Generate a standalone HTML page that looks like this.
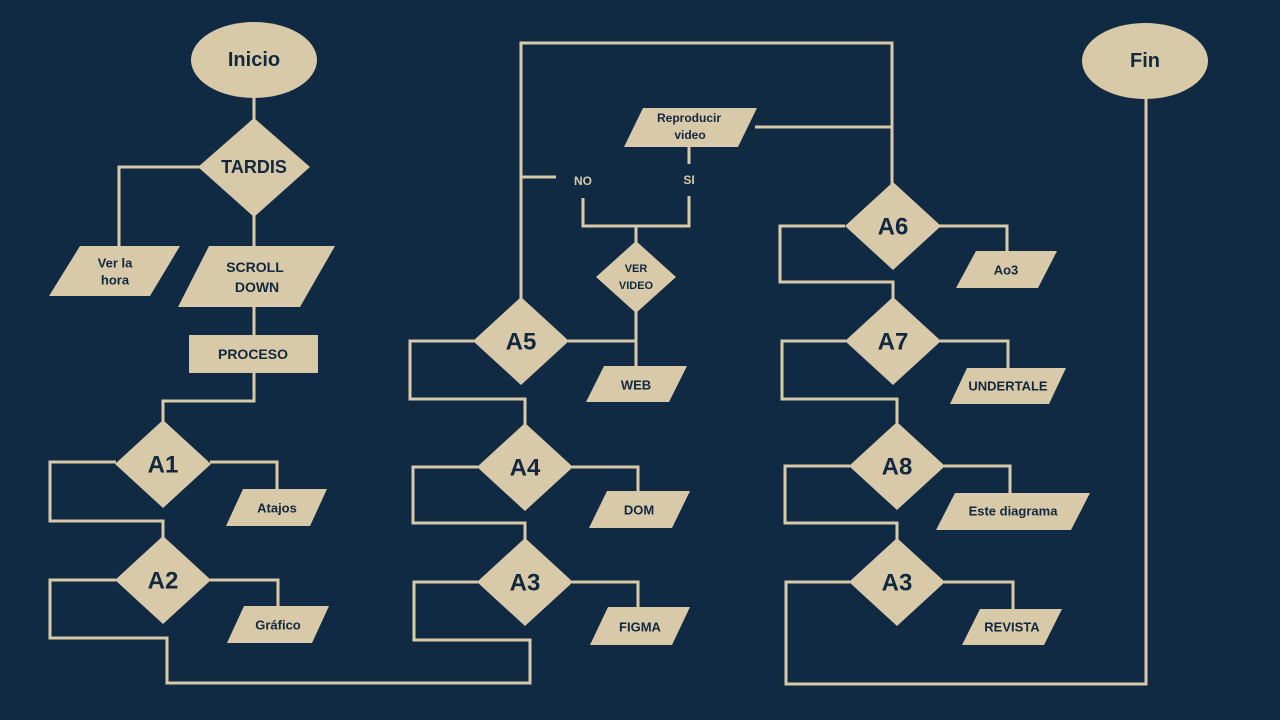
<!DOCTYPE html>
<html><head><meta charset="utf-8"><style>
html,body{margin:0;padding:0;background:#0f2a42;}
svg{display:block}
text{font-family:"Liberation Sans",sans-serif;font-weight:bold;fill:#12283e;text-anchor:middle;dominant-baseline:central}
.l{fill:none;stroke:#d8c9a9;stroke-width:3}
.s{fill:#d8c9a9}
.w{fill:#d8c9a9}
</style></head><body>
<svg width="1280" height="720" viewBox="0 0 1280 720">
<rect width="1280" height="720" fill="#0f2a42"/>
<g class="l">
<path d="M254 98V120M254 215V248M254 305V336M254 373V401H163V422"/>
<path d="M200 167H119V248"/>
<path d="M116 462H50V521H163V538M210 462H277V490"/>
<path d="M116 580H50V638H167V683H530V640H414V582H478M210 580H278V607"/>
<path d="M521 299V43H892V184M521 177H556M583 198V226H689V196M689 164V147M755 127H892"/>
<path d="M636 226V243M568 341H636V311M636 341V367"/>
<path d="M474 341H410V399H525V425M478 467H413V523H525V540M572 467H638V492M572 582H638V608"/>
<path d="M845 226H780V282H893V299M939 226H1007V252"/>
<path d="M846 341H782V399H897V424M940 341H1008V369"/>
<path d="M850 466H785V523H897V540M944 466H1010V494"/>
<path d="M850 582H786V684H1146V99M944 582H1013V610"/>
</g>
<g class="s">
<ellipse cx="254" cy="60" rx="63" ry="38"/>
<ellipse cx="1145" cy="61" rx="63" ry="38"/>
<polygon points="254,118 310,167 254,217 198,167"/>
<polygon points="80,246 180,246 150,296 49,296"/>
<polygon points="209,246 335,246 300,307 178,307"/>
<rect x="189" y="335" width="129" height="38"/>
<polygon points="163,420 211,464 163,508 115,464"/>
<polygon points="243,489 327,489 310,526 226,526"/>
<polygon points="163,536 211,580 163,624 115,580"/>
<polygon points="244,606 329,606 312,643 227,643"/>
<polygon points="643,108 757,108 738,147 624,147"/>
<polygon points="636,241 676,277 636,313 596,277"/>
<polygon points="521,297 569,341 521,385 473,341"/>
<polygon points="604,366 687,366 669,402 586,402"/>
<polygon points="525,423 573,467 525,511 477,467"/>
<polygon points="607,491 690,491 672,528 589,528"/>
<polygon points="525,538 573,582 525,626 477,582"/>
<polygon points="608,607 690,607 672,645 590,645"/>
<polygon points="893,182 941,226 893,270 845,226"/>
<polygon points="976,251 1057,251 1038,288 956,288"/>
<polygon points="893,297 941,341 893,385 845,341"/>
<polygon points="967,368 1066,368 1049,404 950,404"/>
<polygon points="897,422 945,466 897,510 849,466"/>
<polygon points="955,493 1090,493 1071,530 936,530"/>
<polygon points="897,538 945,582 897,626 849,582"/>
<polygon points="980,609 1062,609 1044,645 962,645"/>
</g>
<text x="254" y="60" font-size="20">Inicio</text>
<text x="1145" y="61" font-size="20">Fin</text>
<text x="254" y="167" font-size="18">TARDIS</text>
<text x="115" y="263" font-size="13">Ver la</text>
<text x="115" y="280" font-size="13">hora</text>
<text x="255" y="267" font-size="14">SCROLL</text>
<text x="257" y="287" font-size="14">DOWN</text>
<text x="253" y="354" font-size="14">PROCESO</text>
<text x="163" y="465" font-size="24">A1</text>
<text x="277" y="508" font-size="13">Atajos</text>
<text x="163" y="581" font-size="24">A2</text>
<text x="278" y="625" font-size="13">Gráfico</text>
<text x="689" y="118" font-size="12">Reproducir</text>
<text x="690" y="135" font-size="12">video</text>
<text x="583" y="181" font-size="12" fill="#d8c9a9" style="fill:#d8c9a9">NO</text>
<text x="689" y="180" font-size="12" style="fill:#d8c9a9">SI</text>
<text x="636" y="269" font-size="11">VER</text>
<text x="636" y="286" font-size="11">VIDEO</text>
<text x="521" y="342" font-size="24">A5</text>
<text x="636" y="385" font-size="13">WEB</text>
<text x="525" y="468" font-size="24">A4</text>
<text x="639" y="510" font-size="13">DOM</text>
<text x="525" y="583" font-size="24">A3</text>
<text x="640" y="627" font-size="13">FIGMA</text>
<text x="893" y="227" font-size="24">A6</text>
<text x="1006" y="270" font-size="13">Ao3</text>
<text x="893" y="342" font-size="24">A7</text>
<text x="1008" y="386" font-size="13">UNDERTALE</text>
<text x="897" y="467" font-size="24">A8</text>
<text x="1013" y="511" font-size="13">Este diagrama</text>
<text x="897" y="583" font-size="24">A3</text>
<text x="1012" y="627" font-size="13">REVISTA</text>
</svg>
</body></html>
